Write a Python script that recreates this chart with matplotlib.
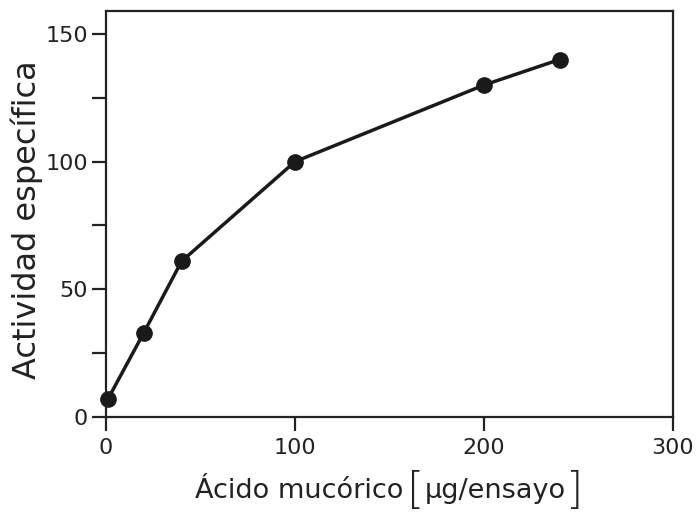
import matplotlib
matplotlib.use("Agg")
import matplotlib.pyplot as plt

x_vals = [1, 20, 40, 100, 200, 240]
y_vals = [7, 33, 61, 100, 130, 140]
x_ticks = [0, 100, 200, 300]
y_major = [0, 50, 100, 150]
y_minor = [25, 75, 125]

plt.rcParams['font.family'] = ['DejaVu Sans']
fig = plt.figure(figsize=(6.98, 5.15), dpi=100)
ax = fig.add_axes([106/698, 1-417/515, (673-106)/698, (417-11)/515])
ax.plot(x_vals, y_vals, color='#1a1a1a', lw=2.5, marker='o', ms=11,
        markerfacecolor='#1a1a1a', markeredgecolor='#1a1a1a', clip_on=False, zorder=3)
ax.set_xlim(0, 300)
ax.set_ylim(0, 159)
ax.set_xticks(x_ticks)
ax.set_yticks(y_major)
ax.set_yticks(y_minor, minor=True)
for s in ax.spines.values():
    s.set_linewidth(1.6)
    s.set_color('#222222')
ax.tick_params(axis='both', which='both', direction='out', length=10, width=1.6,
               color='#222222', labelsize=16, labelcolor='#222222')
ax.tick_params(axis='x', pad=5)
ax.tick_params(axis='y', pad=3)
ax.set_ylabel('Actividad específica', fontsize=23, color='#222222', va='center')
ax.yaxis.set_label_coords((27-106)/567, (417-220)/406)

# x label with tall brackets
fig.canvas.draw()
r = fig.canvas.get_renderer()
y_txt = 1 - 498/515
parts = [('Ácido mucórico', 19.5, 0, 'normal'), ('[', 32, -0.012, 'light'),
         ('µg/ensayo', 19.5, 0, 'normal'), (']', 32, -0.012, 'light')]
texts = []
for s, fs, dy, wt in parts:
    t = fig.text(0, y_txt + dy, s, fontsize=fs, color='#222222', va='baseline',
                 ha='left', fontweight=wt)
    texts.append(t)
widths = [t.get_window_extent(r).width / 698 for t in texts]
gaps = [4 / 698, 0, 0, 0]
total = sum(widths) + sum(gaps)
x0 = (200 + 578) / 2 / 698 - total / 2
for t, w, g in zip(texts, widths, gaps):
    t.set_x(x0)
    x0 += w + g

fig.savefig('out.png', dpi=100, facecolor='white')
